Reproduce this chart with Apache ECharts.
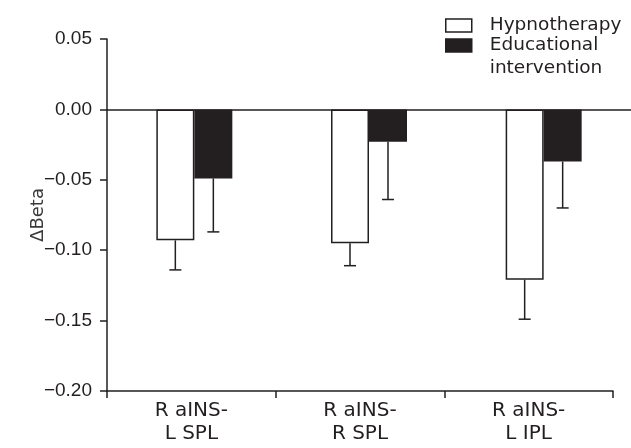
<!DOCTYPE html>
<html><head><meta charset="utf-8">
<script src="https://cdn.jsdelivr.net/npm/echarts@6/dist/echarts.min.js"></script>
<style>html,body{margin:0;padding:0;background:#fff}#c{width:631px;height:448px}</style>
</head><body><div id="c"></div>
<script>
var categories = ['R aINS-\nL SPL', 'R aINS-\nR SPL', 'R aINS-\nL IPL'];
var seriesNames = ['Hypnotherapy', 'Educational\nintervention'];
var hypnotherapy = [-0.093, -0.095, -0.121];
var hypnotherapyErrLow = [-0.114, -0.111, -0.149];
var educational = [-0.049, -0.023, -0.037];
var educationalErrLow = [-0.087, -0.064, -0.070];
var yTicks = [-0.20, -0.15, -0.10, -0.05, 0.00, 0.05];

var INK = '#231f20';
var FONT = 'Liberation Sans';
var WFONT = 'DejaVu Sans';
var BW = 38;

function errData(vals, lows) {
  return vals.map(function (v, i) { return [i, v, lows[i]]; });
}
function errSeries(name, vals, lows, offset) {
  return {
    type: 'custom', name: name + ' err', xAxisIndex: 0, yAxisIndex: 0, silent: true, z: 1,
    data: errData(vals, lows),
    renderItem: function (params, api) {
      var top = api.coord([api.value(0), api.value(1)]);
      var bot = api.coord([api.value(0), api.value(2)]);
      var x = top[0] + offset;
      var half = 6;
      return {
        type: 'group',
        children: [
          { type: 'line', shape: { x1: x, y1: top[1], x2: x, y2: bot[1] }, style: { stroke: INK, lineWidth: 1.5 } },
          { type: 'line', shape: { x1: x - half, y1: bot[1], x2: x + half, y2: bot[1] }, style: { stroke: INK, lineWidth: 1.5 } }
        ]
      };
    }
  };
}

var chart = echarts.init(document.getElementById('c'), null, { renderer: 'canvas' });
chart.setOption({
  animation: false,
  textStyle: { fontFamily: FONT },
  legend: {
    orient: 'vertical', left: 440, top: 6,
    itemWidth: 26, itemHeight: 13, itemGap: -26,
    icon: 'rect',
    selectedMode: false,
    formatter: function (name) { return name === seriesNames[1] ? '\n' + name : name; },
    textStyle: { fontFamily: WFONT, fontSize: 18.5, color: INK, lineHeight: 23, padding: [0, 0, 0, 13] },
    data: [
      { name: seriesNames[0], itemStyle: { color: '#fff', borderColor: INK, borderWidth: 1.5 } },
      { name: seriesNames[1], itemStyle: { color: INK, borderColor: INK, borderWidth: 1.5 } }
    ]
  },
  grid: [
    { left: 107, right: 0, top: 39, bottom: 57 },
    { left: 107, right: 18, top: 39, bottom: 57 }
  ],
  xAxis: [
    { type: 'category', gridIndex: 0, data: categories,
      axisLine: { onZero: true, lineStyle: { color: INK, width: 1.5 } },
      axisTick: { show: false }, axisLabel: { show: false }, splitLine: { show: false } },
    { type: 'category', gridIndex: 1, data: categories, position: 'bottom',
      axisLine: { onZero: false, lineStyle: { color: INK, width: 1.5 } },
      axisTick: { show: true, length: 7, lineStyle: { color: INK, width: 1.5 } },
      axisLabel: { fontFamily: WFONT, fontSize: 20, color: INK, lineHeight: 23, margin: 8 },
      splitLine: { show: false } }
  ],
  yAxis: [
    { type: 'value', gridIndex: 0, min: -0.2, max: 0.05, interval: 0.05, show: false, splitLine: { show: false } },
    { type: 'value', gridIndex: 1, min: -0.2, max: 0.05, interval: 0.05,
      name: 'ΔBeta', nameLocation: 'middle', nameGap: 60, nameRotate: 90, nameMoveOverlap: false,
      nameTextStyle: { fontFamily: WFONT, fontSize: 18, color: '#3a3a3a' },
      axisLine: { show: true, lineStyle: { color: INK, width: 1.5 } },
      axisTick: { show: true, length: 7, lineStyle: { color: INK, width: 1.5 } },
      splitLine: { show: false },
      axisLabel: { fontFamily: FONT, fontSize: 19, color: INK, margin: 15,
        formatter: function (v) {
          var t = yTicks.reduce(function (a, b) { return Math.abs(b - v) < Math.abs(a - v) ? b : a; });
          return t.toFixed(2).replace('-', '\u2212');
        } } }
  ],
  series: [
    errSeries('h', hypnotherapy, hypnotherapyErrLow, -BW / 2),
    errSeries('e', educational, educationalErrLow, BW / 2),
    { type: 'bar', name: seriesNames[0], xAxisIndex: 0, yAxisIndex: 0, data: hypnotherapy,
      barWidth: BW, barGap: '0%', z: 2,
      itemStyle: { color: '#fff', borderColor: INK, borderWidth: 1.5 } },
    { type: 'bar', name: seriesNames[1], xAxisIndex: 0, yAxisIndex: 0, data: educational,
      barWidth: BW, barGap: '0%', z: 2,
      itemStyle: { color: INK, borderColor: INK, borderWidth: 1.5 } }
  ]
});
</script></body></html>
